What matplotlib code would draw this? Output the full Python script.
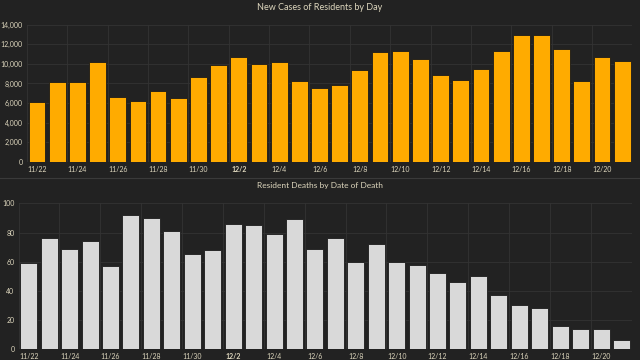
import matplotlib
matplotlib.use("Agg")
import matplotlib.pyplot as plt
from matplotlib.lines import Line2D
from matplotlib.ticker import FuncFormatter
import numpy as np

# days 11/22 .. 12/21
days = ['11/22', '11/23', '11/24', '11/25', '11/26', '11/27', '11/28', '11/29', '11/30',
        '12/1', '12/2', '12/3', '12/4', '12/5', '12/6', '12/7', '12/8', '12/9', '12/10',
        '12/11', '12/12', '12/13', '12/14', '12/15', '12/16', '12/17', '12/18', '12/19',
        '12/20', '12/21']

new_cases = [6100, 8100, 8100, 10150, 6600, 6170, 7220, 6480, 8620, 9880,
             10670, 9980, 10190, 8250, 7560, 7810, 9400, 11240, 11340, 10460,
             8890, 8320, 9440, 11340, 12980, 13010, 11490, 8220, 10730, 10290]

deaths = [59, 76, 69, 74, 57, 92, 90, 81, 65, 68,
          86, 85, 79, 89, 69, 76, 60, 72, 60, 58,
          52, 46, 50, 37, 30, 28, 16, 14, 14, 6]

bg = '#222222'
txt = '#ddd6bd'
grid = '#333333'
font = 'Lato'

fig = plt.figure(figsize=(6.4, 3.6), dpi=100, facecolor=bg)

def style(ax, yticks, fmt):
    ax.set_facecolor(bg)
    x = np.arange(len(days))
    ax.set_xlim(-0.5, len(days) - 0.5)
    ax.set_xticks(x[::2])
    ax.set_xticklabels(days[::2])
    for lab in ax.get_xticklabels():
        lab.set_fontfamily(font)
        if lab.get_text() == '12/2':
            lab.set_fontweight('bold')
            lab.set_color('#f2eedf')
    ax.set_xticks(np.arange(-0.5, len(days), 2), minor=True)
    ax.set_yticks(yticks)
    ax.yaxis.set_major_formatter(FuncFormatter(fmt))
    ax.tick_params(axis='both', which='both', length=0, colors=txt, labelsize=5, pad=3)
    for lab in ax.get_yticklabels():
        lab.set_fontfamily(font)
    ax.grid(which='minor', axis='x', color=grid, lw=0.6)
    ax.grid(which='major', axis='y', color=grid, lw=0.6)
    ax.set_axisbelow(True)
    for s in ax.spines.values():
        s.set_visible(False)
    ax.axhline(0, color='#3a3a3a', lw=0.8, zorder=1)

# top chart
ax1 = fig.add_axes([0.042, 0.551, 0.946, 0.38])
ax1.bar(np.arange(len(days)), new_cases, width=0.83, color='#ffab00',
        edgecolor='#1a1a1a', linewidth=0.6, zorder=3)
ax1.set_ylim(0, 14000)
style(ax1, np.arange(0, 14001, 2000), lambda v, p: f'{int(v):,}')
fig.text(0.5, 0.978, 'New Cases of Residents by Day', ha='center', va='center',
         color=txt, fontsize=6.5, family=font)

# separator
fig.add_artist(Line2D([0, 1], [0.506, 0.506], color='#3a3a3a', lw=0.8))

# bottom chart
ax2 = fig.add_axes([0.029, 0.03, 0.958, 0.405])
ax2.bar(np.arange(len(days)), deaths, width=0.83, color='#d9d9d9',
        edgecolor='#1a1a1a', linewidth=0.6, zorder=3)
ax2.set_ylim(0, 100)
style(ax2, np.arange(0, 101, 20), lambda v, p: f'{int(v)}')
fig.text(0.5, 0.485, 'Resident Deaths by Date of Death', ha='center', va='center',
         color=txt, fontsize=6, family=font)

fig.savefig('out.png', dpi=100, facecolor=bg)
